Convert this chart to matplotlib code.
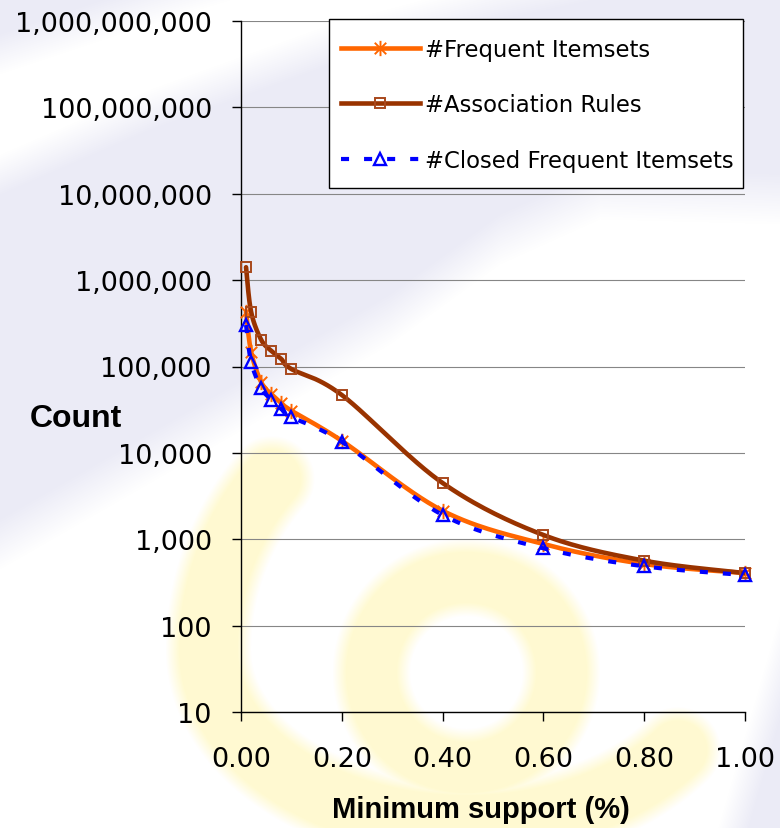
import numpy as np
import matplotlib.pyplot as plt
from matplotlib.lines import Line2D
from matplotlib.patches import Rectangle
from matplotlib.path import Path
from matplotlib.ticker import FixedLocator, NullLocator

plt.rcParams['lines.scale_dashes'] = False

# minimum support (%) and the counts at each threshold
support = [0.01, 0.02, 0.04, 0.06, 0.08, 0.10, 0.20, 0.40, 0.60, 0.80, 1.00]
frequent_itemsets = [431000, 148000, 66000, 48000, 37800, 30800, 13800, 2140, 881, 517, 406]
association_rules = [1410000, 431000, 204000, 152000, 122000, 93500, 46800, 4480, 1120, 565, 406]
closed_itemsets = [302000, 113000, 56400, 41300, 32200, 26000, 13400, 1910, 785, 486, 385]

y_ticks = [10, 100, 1000, 10000, 100000, 1000000, 10000000, 100000000, 1000000000]
x_ticks = [0.0, 0.2, 0.4, 0.6, 0.8, 1.0]
labels = ['#Frequent Itemsets', '#Association Rules', '#Closed Frequent Itemsets']

W, H = 780, 829
fig = plt.figure(figsize=(W / 100, H / 100), dpi=100)
fig.patch.set_facecolor('white')


# ---------- slide watermark behind the chart ----------
def ramp(d, soft):
    return np.clip(0.5 + d / soft, 0.0, 1.0)


yy, xx = np.mgrid[0:H, 0:W].astype(float)

# lavender swoosh with a white band through it
y_w1 = np.interp(xx, [0, 150, 300, 780], [55, 5, -40, -200])
y_w2 = np.interp(xx, [0, 150, 330, 500, 780], [175, 110, 45, 0, -60])
y_lo = np.interp(xx, [0, 200, 390, 500, 600, 780], [545, 430, 320, 240, 195, 200])
lav = np.maximum(ramp(y_w1 - yy, 40), ramp(yy - y_w2, 40) * ramp(y_lo - yy, 50))
lav = np.maximum(lav, ramp(xx - (770 - 0.29 * (yy - 700)), 30))

# yellow spiral: open outer arc plus an inner ring
t = np.radians(np.linspace(139, 325, 160))
arc_x = 466 + 258 * np.cos(t)
arc_y = 650 - np.where(np.sin(t) > 0, 260, 175) * np.sin(t)
d_arc = np.full(xx.shape, 1e9)
for px, py in zip(arc_x, arc_y):
    d_arc = np.minimum(d_arc, np.hypot(xx - px, yy - py))
r_ring = np.hypot(xx - 466, yy - 673)
yel = np.maximum(ramp(36 - d_arc, 14), ramp(r_ring - 63, 14) * ramp(127 - r_ring, 14))

lavender = np.array([0.925, 0.925, 0.967])
yellow = np.array([1.0, 0.98, 0.82])
bg = np.ones((H, W, 3))
bg = bg * (1 - lav[..., None]) + lavender * lav[..., None]
bg = bg * (1 - yel[..., None]) + yellow * yel[..., None]
fig.figimage(bg, xo=0, yo=0, origin='upper', zorder=-1)

# ---------- chart ----------
ax = fig.add_axes([241 / W, 1 - 713 / H, 504 / W, 691 / H])
ax.set_facecolor('none')
ax.set_yscale('log')
ax.set_xlim(0, 1)
ax.set_ylim(10, 1e9)
ax.yaxis.set_major_locator(FixedLocator(y_ticks))
ax.yaxis.set_minor_locator(NullLocator())
ax.set_yticklabels([f'{v:,}' for v in y_ticks])
ax.set_xticks(x_ticks)
ax.set_xticklabels([f'{v:.2f}' for v in x_ticks])
ax.grid(axis='y', color='#868686', lw=0.8)
ax.set_axisbelow(True)
for side in ['top', 'right']:
    ax.spines[side].set_visible(False)
for side in ['left', 'bottom']:
    ax.spines[side].set_linewidth(1.0)
ax.tick_params(direction='out', length=6.5, width=1, labelsize=19.5, colors='black')
ax.tick_params(axis='y', pad=14.5)
ax.tick_params(axis='x', pad=18)


def smooth(xs, ys, m=30):
    """Bezier smoothing through the points in screen space."""
    p = ax.transData.transform(np.column_stack([xs, ys]))
    n = len(p)
    out = []
    s = np.linspace(0, 1, m)[:, None]
    for i in range(n - 1):
        prev = p[i - 1] if i > 0 else p[i]
        nxt = p[i + 2] if i + 2 < n else p[i + 1]
        c1 = p[i] + (p[i + 1] - prev) / 6
        c2 = p[i + 1] - (nxt - p[i]) / 6
        seg = ((1 - s) ** 3) * p[i] + 3 * ((1 - s) ** 2) * s * c1 \
            + 3 * (1 - s) * s ** 2 * c2 + s ** 3 * p[i + 1]
        out.append(seg if i == 0 else seg[1:])
    out = ax.transData.inverted().transform(np.vstack(out))
    return out[:, 0], out[:, 1]


orange, brown, blue = '#FF6600', '#993300', '#0000FF'
sq_edge = '#a8481c'
# asterisk marker: a vertical bar crossed by an X
star = Path([(0, -1), (0, 1), (-0.75, -0.75), (0.75, 0.75), (-0.75, 0.75), (0.75, -0.75)],
            [Path.MOVETO, Path.LINETO] * 3)
blue_dash = (5.8, 10.8)

cx, cy = smooth(support, frequent_itemsets)
ax.plot(cx, cy, color=orange, lw=3.3, zorder=3, solid_capstyle='round')
ax.plot(support, frequent_itemsets, ls='none', marker=star, ms=11, mec=orange, mew=1.4,
        zorder=3.1, clip_on=False)

cx, cy = smooth(support, association_rules)
ax.plot(cx, cy, color=brown, lw=3.3, zorder=4, solid_capstyle='round')
ax.plot(support, association_rules, ls='none', marker='s', ms=7, mfc='none', mec=sq_edge,
        mew=1.4, zorder=4.1, clip_on=False)

cx, cy = smooth(support, closed_itemsets)
ax.plot(cx, cy, color=blue, lw=3.0, dashes=blue_dash, zorder=5)
ax.plot(support, closed_itemsets, ls='none', marker='^', ms=8, mfc='none', mec=blue,
        mew=1.7, zorder=5.1, clip_on=False)

handles = [
    Line2D([], [], color=orange, lw=3.3, marker=star, ms=11, mec=orange, mew=1.4),
    Line2D([], [], color=brown, lw=3.3, marker='s', ms=6.5, mfc='none', mec=sq_edge, mew=1.4),
    Line2D([], [], color=blue, lw=3.0, dashes=blue_dash, marker='^', ms=8, mfc='none',
           mec=blue, mew=1.7),
]

# legend box drawn separately so its frame sits exactly where wanted
ax.add_patch(Rectangle((329 / W, 1 - 189 / H), 414 / W, 169 / H, transform=fig.transFigure,
                       facecolor='white', edgecolor='black', lw=1.0, clip_on=False, zorder=9))
leg = ax.legend(handles, labels, loc='upper left', bbox_to_anchor=(341 / W, 1 - 39 / H),
                bbox_transform=fig.transFigure, borderaxespad=0, borderpad=0,
                labelspacing=1.42, handlelength=3.46, handletextpad=0.22, numpoints=1,
                frameon=False, prop={'family': 'DejaVu Sans', 'size': 16.4})
leg.set_zorder(10)

fig.text(332 / W, 1 - 818 / H, 'Minimum support (%)', family='Liberation Sans',
         weight='bold', fontsize=21, ha='left', va='baseline')
fig.text(30 / W, 1 - 427 / H, 'Count', family='Liberation Sans',
         weight='bold', fontsize=23, ha='left', va='baseline')

fig.savefig('out.png', dpi=100)
